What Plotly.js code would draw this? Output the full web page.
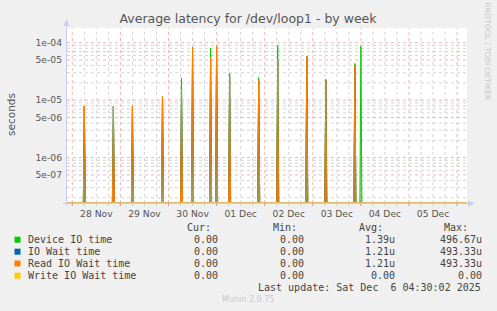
<!DOCTYPE html>
<html>
<head>
<meta charset="utf-8">
<script src="https://cdn.plot.ly/plotly-3.0.1.min.js"></script>
<style>
html,body{margin:0;padding:0;background:#F0F0F0;}
#chart{width:497px;height:311px;}
</style>
</head>
<body>
<div id="chart"></div>
<script>
// ---- data ----
const rangeStart = '2025-11-27 21:21';
const rangeEnd = '2025-12-06 04:57';
const spikeTimes = ['2025-11-28 06:00','2025-11-28 20:30','2025-11-29 06:00','2025-11-29 21:00',
  '2025-11-30 06:30','2025-11-30 12:00','2025-11-30 21:00','2025-12-01 00:00','2025-12-01 06:30',
  '2025-12-01 21:00','2025-12-02 06:30','2025-12-02 21:00','2025-12-03 06:30','2025-12-03 21:00',
  '2025-12-04 00:00'];
const deviceIO = [7.9e-6,7.8e-6,7.8e-6,1.16e-5,2.45e-5,8.2e-5,8.0e-5,8.7e-5,2.95e-5,2.48e-5,8.9e-5,5.75e-5,2.3e-5,4.35e-5,8.7e-5];
const ioWait   = [7.9e-6,7.8e-6,7.8e-6,1.16e-5,1.47e-5,8.2e-5,5.46e-5,8.7e-5,2.6e-5,2.2e-5,4.9e-5,5.75e-5,2.25e-5,4.06e-5,0];
const readWait = [7.9e-6,7.8e-6,7.8e-6,1.16e-5,1.47e-5,8.2e-5,5.46e-5,8.7e-5,2.6e-5,2.2e-5,4.9e-5,5.75e-5,2.25e-5,4.06e-5,0];
const writeWait= [0,0,0,0,0,0,0,0,0,0,0,0,0,0,0];
const seriesNames = ['Device IO time','IO Wait time','Read IO Wait time','Write IO Wait time'];
const seriesColors = ['#00CC00','#0066B3','#FF8000','#FFCC00'];
const curVals = ['0.00','0.00','0.00','0.00'];
const minVals = ['0.00','0.00','0.00','0.00'];
const avgVals = ['1.39u','1.21u','1.21u','0.00'];
const maxVals = ['496.67u','493.33u','493.33u','0.00'];
const xTickVals = ['2025-11-28 12:00','2025-11-29 12:00','2025-11-30 12:00','2025-12-01 12:00',
  '2025-12-02 12:00','2025-12-03 12:00','2025-12-04 12:00','2025-12-05 12:00'];
const xTickText = ['28 Nov','29 Nov','30 Nov','01 Dec','02 Dec','03 Dec','04 Dec','05 Dec'];
const yTickVals = [5e-7,1e-6,5e-6,1e-5,5e-5,1e-4];
const yTickText = ['5e-07','1e-06','5e-06','1e-05','5e-05','1e-04'];
const lastUpdate = 'Last update: Sat Dec  6 04:30:02 2025';

// ---- helpers ----
const yLogRange = [-6.79, -3.744];
const FLOOR = Math.pow(10, -6.786); // zero drawn on the bottom edge of the log axis
const toMs = s => new Date(s.replace(' ', 'T') + ':00Z').getTime();
const toStr = ms => new Date(ms).toISOString().slice(0,16).replace('T',' ');
const HALF = 30*60*1000;

function buildSeries(vals){
  const xs=[rangeStart], ys=[FLOOR];
  spikeTimes.forEach((t,i)=>{
    const m=toMs(t);
    xs.push(toStr(m-HALF)); ys.push(FLOOR);
    xs.push(t); ys.push(vals[i]>0?vals[i]:FLOOR);
    xs.push(toStr(m+HALF)); ys.push(FLOOR);
  });
  xs.push(rangeEnd); ys.push(FLOOR);
  return {xs,ys};
}

const allVals=[deviceIO, ioWait, readWait, writeWait];
const fills=['rgba(110,180,70,0.45)','rgba(0,0,0,0)','rgba(165,125,60,0.55)','rgba(0,0,0,0)'];
const traces = allVals.map((v,i)=>{
  const s=buildSeries(v);
  return {x:s.xs,y:s.ys,type:'scatter',mode:'lines',name:seriesNames[i],
    line:{color:i===3?'#E6CE80':seriesColors[i],width:1,shape:'linear'},
    fill: (i===0||i===2)?'toself':'none', fillcolor:fills[i],
    hoverinfo:'skip',showlegend:false};
});

// pixel -> paper helpers (plot area: x 67..467, y 28..203)
const PX = p => (p-67)/400;
const PY = p => (203-p)/175;

const MAJ='rgba(232,170,170,0.85)', MIN='rgba(205,205,205,0.85)';
const shapes=[];
// vertical grid every 6h
const gStart=toMs('2025-11-27 00:00'), gEnd=toMs('2025-12-07 00:00');
const rs=toMs(rangeStart), re=toMs(rangeEnd);
for(let m=gStart;m<=gEnd;m+=6*3600*1000){
  if(m<rs||m>re) continue;
  const major = new Date(m).getUTCHours()===0;
  shapes.push({type:'line',xref:'x',yref:'paper',x0:toStr(m),x1:toStr(m),y0:0,y1:1,
    line:{color:major?MAJ:MIN,width:1,dash:'dot'},layer:'below'});
  shapes.push({type:'line',xref:'x',yref:'paper',x0:toStr(m),x1:toStr(m),y0:0,y1:-3/175,
    line:{color:major?'#E49090':'#CCCCCC',width:1},layer:'above'});
}
// horizontal grid
for(let d=-7; d<=-4; d++){
  for(let k=1;k<=9;k++){
    const v=k*Math.pow(10,d); const lv=Math.log10(v);
    if(lv<yLogRange[0]||lv>yLogRange[1]) continue;
    const major=(k===1||k===5);
    shapes.push({type:'line',xref:'paper',yref:'y',x0:0,x1:1,y0:v,y1:v,
      line:{color:major?MAJ:MIN,width:1,dash:'dot'},layer:'below'});
  }
}
// axis lines with arrows
shapes.push({type:'line',xref:'paper',yref:'paper',x0:PX(66.5),x1:PX(66.5),y0:PY(206),y1:PY(22),
  line:{color:'#CCCCF0',width:1},layer:'above'});
shapes.push({type:'path',xref:'paper',yref:'paper',
  path:`M ${PX(63.5)} ${PY(26)} L ${PX(69.5)} ${PY(26)} L ${PX(66.5)} ${PY(19)} Z`,
  fillcolor:'#CCCCF0',line:{width:0},layer:'above'});
shapes.push({type:'line',xref:'paper',yref:'paper',x0:PX(63),x1:PX(470),y0:PY(203.5),y1:PY(203.5),
  line:{color:'#CCCCF0',width:1},layer:'below'});
shapes.push({type:'path',xref:'paper',yref:'paper',
  path:`M ${PX(468)} ${PY(200.5)} L ${PX(468)} ${PY(206.5)} L ${PX(475)} ${PY(203.5)} Z`,
  fillcolor:'#CCCCF0',line:{width:0},layer:'above'});

// legend
const annotations=[];
const mono='DejaVu Sans Mono, monospace';
const legendYs=[239.7,251.7,263.5,275.7];
const legFont={family:mono,size:10,color:'#444'};
function ann(text,x,y,anchor,font){
  annotations.push({text:text,xref:'paper',yref:'paper',x:PX(x),y:PY(y),xanchor:anchor,yanchor:'middle',
    showarrow:false,font:font||legFont});
}
ann('Cur:',213,227.7,'right'); ann('Min:',298.5,227.7,'right');
ann('Avg:',384.5,227.7,'right'); ann('Max:',470,227.7,'right');
seriesNames.forEach((n,i)=>{
  const y=legendYs[i];
  shapes.push({type:'rect',xref:'paper',yref:'paper',x0:PX(14.5),x1:PX(20.5),y0:PY(y+3),y1:PY(y-3),
    fillcolor:seriesColors[i],line:{width:0}});
  ann(n,25.5,y,'left');
  ann(curVals[i],219.5,y,'right'); ann(minVals[i],305.5,y,'right');
  ann(avgVals[i],397,y,'right'); ann(maxVals[i],483.5,y,'right');
});
ann(lastUpdate,483,287.7,'right');
ann('Munin 2.0.75',248,299.7,'center',{family:'DejaVu Sans',size:8,color:'#C8C8C8'});
annotations.push({text:'RRDTOOL / TOBI OETIKER',xref:'paper',yref:'paper',x:PX(487.5),y:PY(52),
  xanchor:'center',yanchor:'middle',textangle:90,showarrow:false,
  font:{family:'DejaVu Sans',size:7.6,color:'#C8C8C8'}});
annotations.push({text:'seconds',xref:'paper',yref:'paper',x:PX(11),y:PY(114),
  xanchor:'center',yanchor:'middle',textangle:-90,showarrow:false,
  font:{family:'DejaVu Sans',size:10.5,color:'#555'}});

const layout={
  width:497,height:311,
  margin:{l:67,r:30,t:28,b:108,pad:0},
  paper_bgcolor:'#F0F0F0',plot_bgcolor:'#FFFFFF',
  title:{text:'Average latency for /dev/loop1 - by week',x:248/497,xanchor:'center',y:1-19/311,yanchor:'middle',
    font:{family:'DejaVu Sans',size:12.5,color:'#555'}},
  xaxis:{type:'date',range:[rangeStart,rangeEnd],tickmode:'array',tickvals:xTickVals,ticktext:xTickText,
    showgrid:false,zeroline:false,showline:false,ticks:'',ticklabelstandoff:4,
    tickfont:{family:'DejaVu Sans',size:9.2,color:'#555'}},
  yaxis:{type:'log',range:yLogRange,tickmode:'array',tickvals:yTickVals,ticktext:yTickText,
    showgrid:false,zeroline:false,showline:false,ticks:'',ticklabelstandoff:4,
    tickfont:{family:'DejaVu Sans',size:9.2,color:'#555'}},
  shapes:shapes,annotations:annotations,showlegend:false
};
Plotly.newPlot('chart',traces,layout,{staticPlot:true,displayModeBar:false});
</script>
</body>
</html>
